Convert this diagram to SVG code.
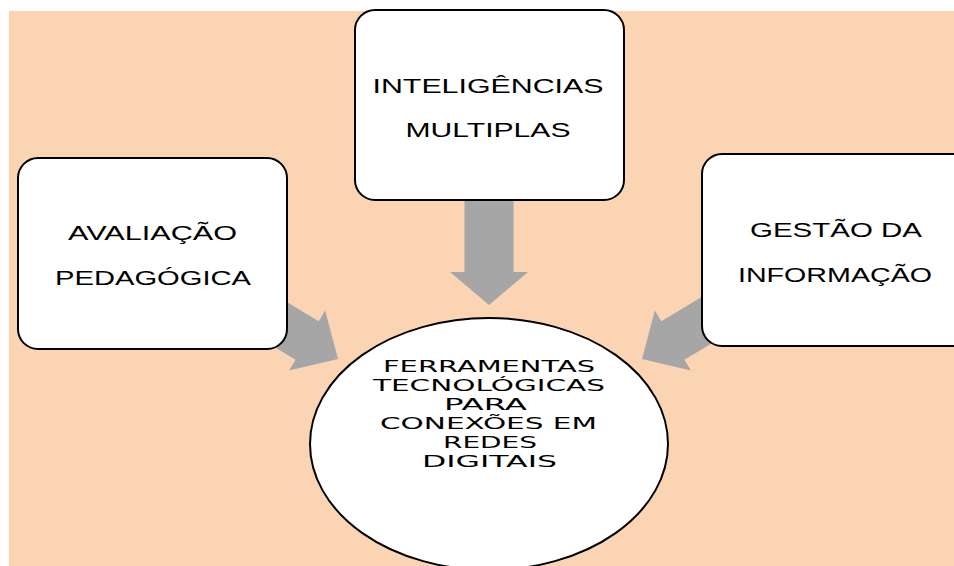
<svg xmlns="http://www.w3.org/2000/svg" width="954" height="566" viewBox="0 0 954 566">
<style>
.box{fill:#ffffff;stroke:#000000;stroke-width:2}
.arrow{fill:#a6a6a6;stroke:none}
.bt{font-family:"Liberation Sans",Arial,sans-serif;font-size:21px;fill:#000000;text-anchor:middle}
.et{font-family:"DejaVu Sans",Verdana,sans-serif;font-size:16.5px;fill:#000000;text-anchor:middle}
</style>
<rect x="0" y="0" width="954" height="566" fill="#ffffff"/>
<rect x="9" y="11" width="945" height="555" fill="#fbd4b4"/>
<g id="connectors">
<polygon class="arrow" transform="translate(489,305) rotate(90)" points="0,0 -33,-39 -33,-24.5 -110,-24.5 -110,24.5 -33,24.5 -33,39"/>
<polygon class="arrow" transform="translate(338,359) rotate(31)" points="0,0 -36,-35 -36,-22.5 -160,-22.5 -160,22.5 -36,22.5 -36,35"/>
<polygon class="arrow" transform="translate(642,359) rotate(149)" points="0,0 -36,-35 -36,-22.5 -160,-22.5 -160,22.5 -36,22.5 -36,35"/>
</g>
<g id="node-inteligencias">
<rect class="box" x="355" y="10" width="269" height="190" rx="20" ry="20"/>
<text class="bt" x="488" y="93" textLength="231" lengthAdjust="spacingAndGlyphs">INTELIGÊNCIAS</text>
<text class="bt" x="488" y="137" textLength="165" lengthAdjust="spacingAndGlyphs">MULTIPLAS</text>
</g>
<g id="node-avaliacao">
<rect class="box" x="18" y="158" width="269" height="191" rx="20" ry="20"/>
<text class="bt" x="152.5" y="240" textLength="169" lengthAdjust="spacingAndGlyphs">AVALIAÇÃO</text>
<text class="bt" x="153" y="285" textLength="196" lengthAdjust="spacingAndGlyphs">PEDAGÓGICA</text>
</g>
<g id="node-gestao">
<rect class="box" x="702" y="154" width="275" height="192" rx="20" ry="20"/>
<text class="bt" x="836" y="237" textLength="172" lengthAdjust="spacingAndGlyphs">GESTÃO DA</text>
<text class="bt" x="835" y="282" textLength="194" lengthAdjust="spacingAndGlyphs">INFORMAÇÃO</text>
</g>
<g id="node-ferramentas">
<ellipse class="box" cx="489" cy="444" rx="179" ry="126"/>
<text class="et" x="489" y="372" textLength="212" lengthAdjust="spacingAndGlyphs">FERRAMENTAS</text>
<text class="et" x="489" y="391" textLength="232" lengthAdjust="spacingAndGlyphs">TECNOLÓGICAS</text>
<text class="et" x="485.5" y="410" textLength="83" lengthAdjust="spacingAndGlyphs">PARA</text>
<text class="et" x="488.5" y="429" textLength="217" lengthAdjust="spacingAndGlyphs">CONEXÕES EM</text>
<text class="et" x="490" y="448" textLength="94" lengthAdjust="spacingAndGlyphs">REDES</text>
<text class="et" x="489.5" y="467" textLength="135" lengthAdjust="spacingAndGlyphs">DIGITAIS</text>
</g>
</svg>
